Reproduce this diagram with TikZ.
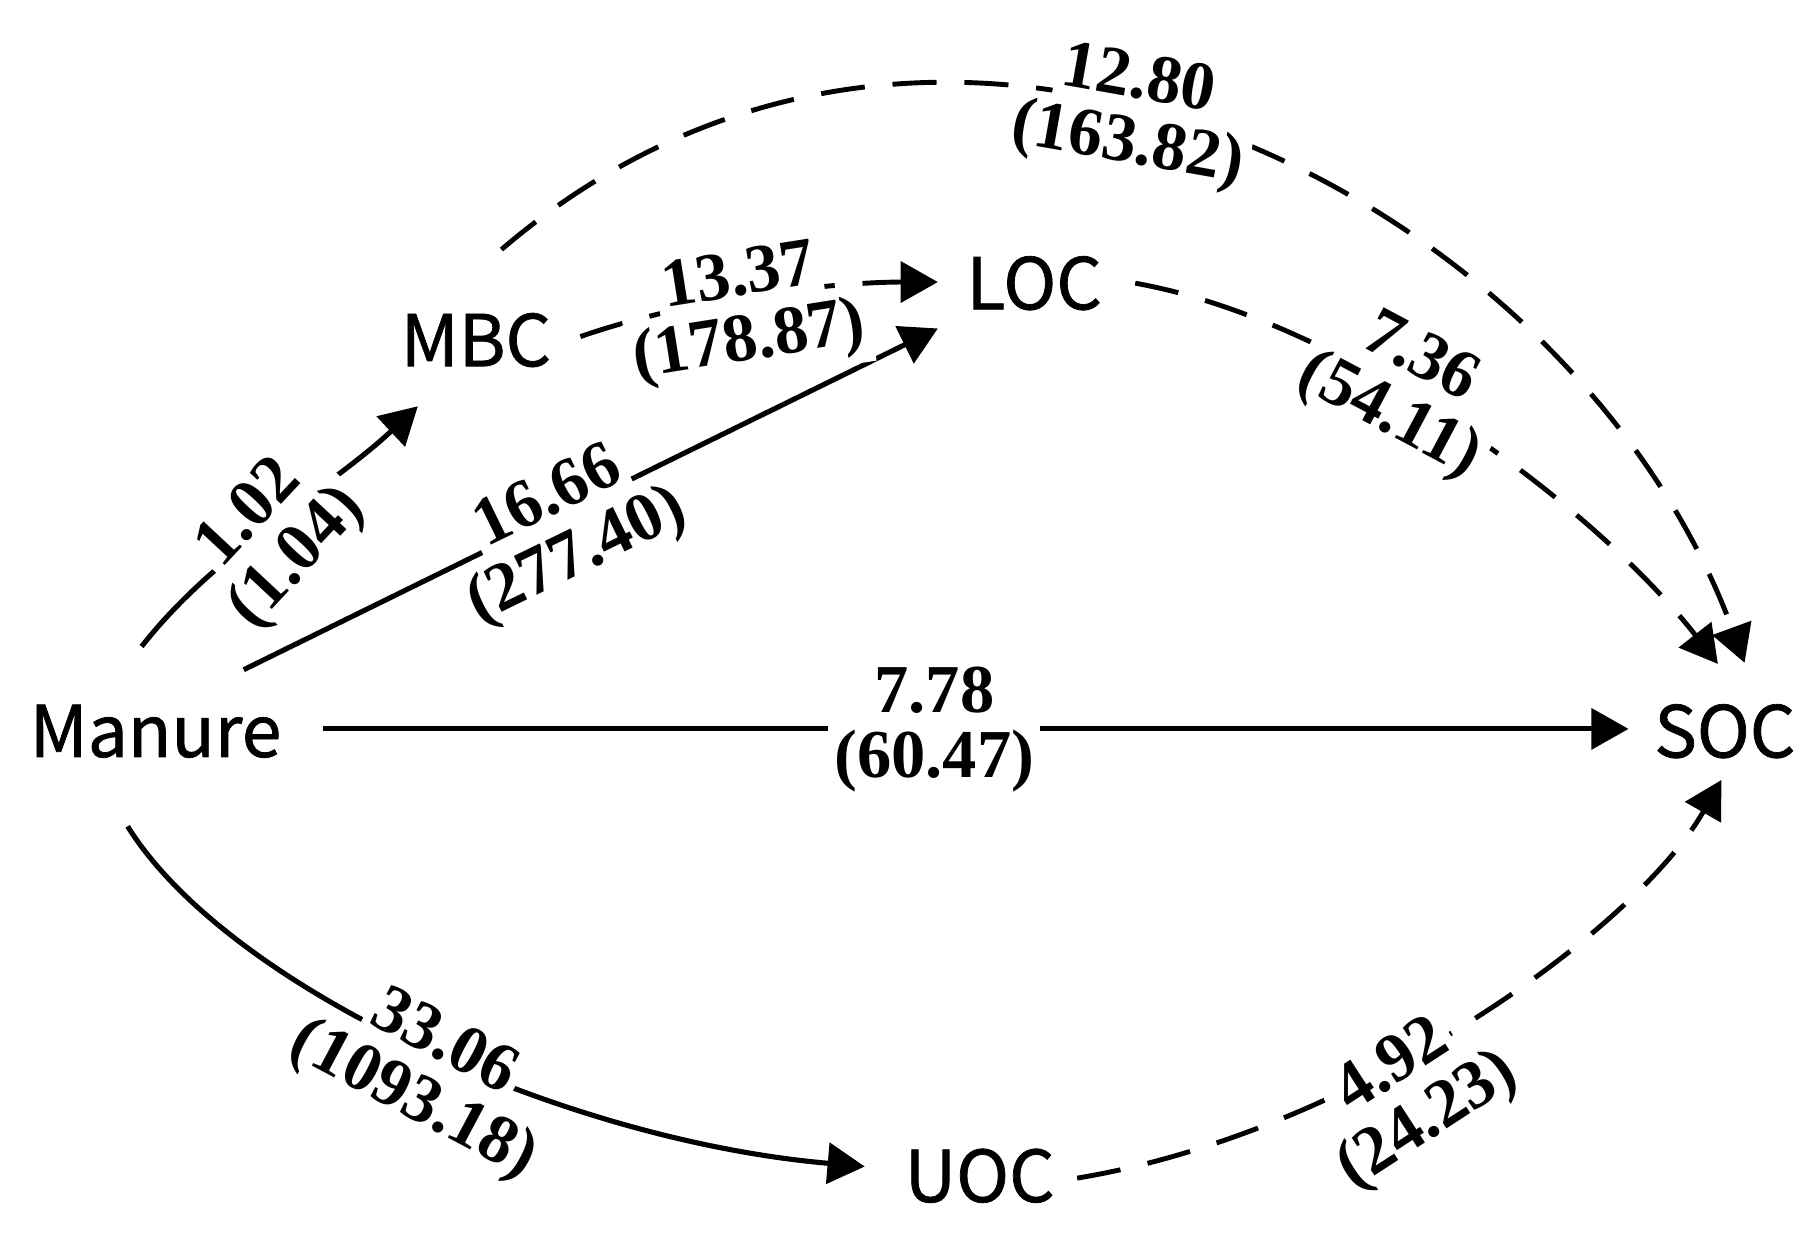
\documentclass[tikz,border=0pt]{standalone}
\usepackage{fontspec}
\newfontfamily\nodefont[FakeBold=1]{Noto Sans CJK SC}
\newfontfamily\labfont{Liberation Serif}
\usetikzlibrary{arrows.meta,calc}
\setlength{\fboxsep}{1.5pt}
\setlength{\lineskiplimit}{-20pt}
\newcommand\twoline[2]{\colorbox{white}{\vphantom{(}#1}\\\colorbox{white}{#2}}
\tikzset{
  var/.style={font=\nodefont\fontsize{17.5}{20}\selectfont, inner sep=0pt},
  lab/.style={font=\labfont\bfseries\fontsize{16.8}{15.9}\selectfont, align=center, inner sep=0pt},
  solidarrow/.style={line width=1.25pt, -{Triangle[length=0.32cm,width=0.35cm]}},
  dasharrow/.style={line width=1.2pt, dash pattern=on 0.38cm off 0.24cm, -{Triangle[length=0.32cm,width=0.35cm]}}
}
\begin{document}
\begin{tikzpicture}
\useasboundingbox (0,0) rectangle (15.68,10.80);
% nodes
\node[var] (Manure) at (1.34,4.50) {Manure};
\node[var] (MBC) at (4.10,7.87) {MBC};
\node[var] (LOC) at (8.91,8.36) {LOC};
\node[var] (SOC) at (14.86,4.50) {SOC};
\node[var] (UOC) at (8.44,0.67) {UOC};
% connectors
\draw[solidarrow] ($(Manure)+(-0.12,0.73)$) .. controls +(0.65,0.83) and +(-0.77,-0.72) .. ($(MBC)+(-0.50,-0.57)$);
\draw[solidarrow] ($(Manure)+(0.76,0.53)$) -- ($(LOC)+(-0.83,-0.39)$);
\draw[solidarrow] ($(Manure)+(1.44,0.02)$) -- ($(SOC)+(-0.83,0.02)$);
\draw[solidarrow] ($(Manure)+(-0.24,-0.82)$) .. controls +(0.86,-1.38) and +(-2.63,0.23) .. ($(UOC)+(-0.99,0.08)$);
\draw[dasharrow] ($(MBC)+(0.90,0.03)$) .. controls +(0.95,0.33) and +(-0.90,0) .. ($(LOC)+(-0.83,0.01)$);
\draw[dasharrow] ($(MBC)+(0.22,0.78)$) .. controls +(3.86,3.30) and +(-1.45,3.95) .. ($(SOC)+(0.17,0.59)$);
\draw[dasharrow] ($(LOC)+(0.87,0)$) .. controls +(1.80,-0.32) and +(-1.08,1.38) .. ($(SOC)+(-0.06,0.58)$);
\draw[dasharrow] ($(UOC)+(0.84,-0.02)$) .. controls +(2.42,0.40) and +(-0.73,-1.28) .. ($(SOC)+(-0.03,-0.42)$);
% labels
\node[lab, rotate=47] (l1) at (2.36,6.18) {\twoline{1.02}{(1.04)}};
\node[lab, rotate=26] (l2) at (4.85,6.25) {\twoline{16.66}{(277.40)}};
\node[lab] (l3) at (8.05,4.52) {\twoline{7.78}{(60.47)}};
\node[lab, rotate=9] (l4) at (6.41,8.12) {\twoline{13.37}{(178.87)}};
\node[lab, rotate=-10] (l5) at (9.76,9.82) {\twoline{12.80}{(163.82)}};
\node[lab, rotate=-28] (l6) at (12.10,7.46) {\twoline{7.36}{(54.11)}};
\node[lab, rotate=-28] (l7) at (3.69,1.56) {\twoline{33.06}{(1093.18)}};
\node[lab, rotate=33] (l8) at (12.15,1.37) {\twoline{4.92}{(24.23)}};
\end{tikzpicture}
\end{document}
